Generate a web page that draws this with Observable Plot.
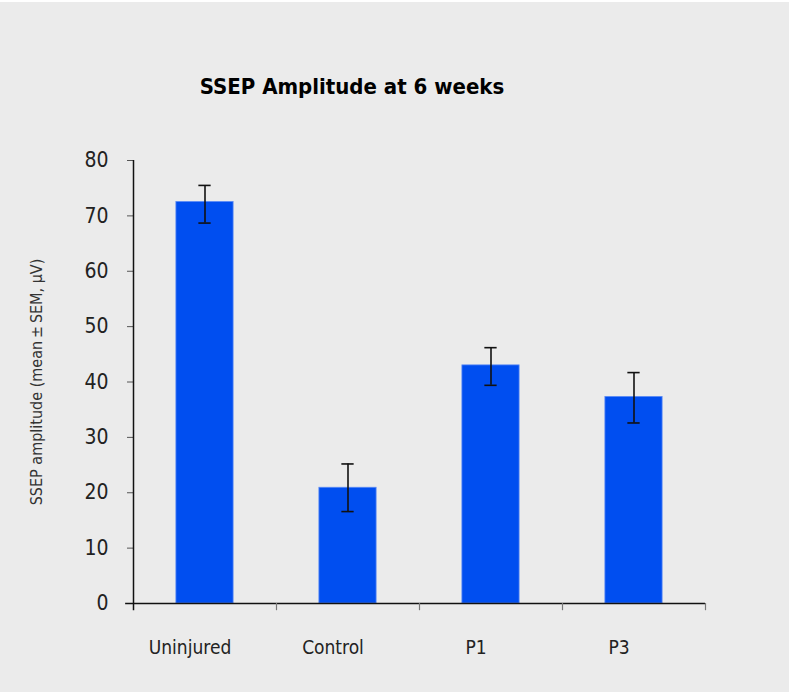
<!DOCTYPE html>
<html>
<head>
<meta charset="utf-8">
<script src="https://cdn.jsdelivr.net/npm/d3@7"></script>
<script src="https://cdn.jsdelivr.net/npm/@observablehq/plot@0.6"></script>
<style>
  html, body { margin: 0; padding: 0; background: #ebebeb; }
  #wrap { position: relative; width: 789px; height: 692px; background: #ebebeb; border-top: 2px solid #ffffff; box-sizing: border-box; }
  #title { position: absolute; left: 0; width: 704px; top: 72px; text-align: center;
    font-family: "DejaVu Sans", sans-serif; font-stretch: condensed;
    font-weight: bold; font-size: 22px; color: #000; }
  #chart { position: absolute; left: 0; top: -2px; }
  svg { font-family: "DejaVu Sans", sans-serif; font-stretch: condensed; }
</style>
</head>
<body>
<div id="wrap">
  <div id="title">SSEP Amplitude at 6 weeks</div>
  <div id="chart"></div>
</div>
<script>
const categories = ["Uninjured", "Control", "P1", "P3"];
const means = [72.5, 20.9, 43.0, 37.3];
const errUpper = [75.5, 25.2, 46.2, 41.7];
const errLower = [68.7, 16.6, 39.4, 32.6];
const yTicks = [0, 10, 20, 30, 40, 50, 60, 70, 80];
const yLabel = "SSEP amplitude (mean\u2009\u00b1\u2009SEM, \u03bcV)";

const data = categories.map((c, i) => ({
  cat: c, i, mean: means[i], hi: errUpper[i], lo: errLower[i]
}));

const chart = Plot.plot({
  width: 789,
  height: 692,
  marginLeft: 133,
  marginRight: 84,
  marginTop: 160,
  marginBottom: 89,
  style: { background: "transparent", fontSize: "20px", color: "#222" },
  x: { domain: [0, categories.length], axis: null },
  y: { domain: [0, 80], axis: null },
  marks: [
    Plot.rectY(data, { x1: d => d.i + 0.3, x2: d => d.i + 0.7, y1: 0, y2: "mean",
      fill: "#004ef0", stroke: "#5a8af5", strokeWidth: 0.8 }),
    Plot.ruleX(data, { x: d => d.i + 0.5, y1: "lo", y2: "hi", stroke: "#111", strokeWidth: 1.6 }),
    Plot.ruleY(data, { x1: d => d.i + 0.457, x2: d => d.i + 0.543, y: "hi", stroke: "#111", strokeWidth: 1.6 }),
    Plot.ruleY(data, { x1: d => d.i + 0.457, x2: d => d.i + 0.543, y: "lo", stroke: "#111", strokeWidth: 1.6 }),
    // y axis
    Plot.axisY({ ticks: yTicks, tickSize: 6, tickPadding: 19, fontSize: 21, stroke: "#555", fill: "#222", label: null }),
    Plot.ruleX([0], { y1: -1.3, y2: 80, stroke: "#111", strokeWidth: 1.5 }),
    // x axis
    Plot.ruleY([0], { x1: -0.055, x2: categories.length, stroke: "#111", strokeWidth: 1.5 }),
    Plot.ruleX(d3.range(1, categories.length + 1), { x: d => d, y1: 0, y2: -1.3, stroke: "#777", strokeWidth: 1.2 }),
    Plot.text(data, { x: d => d.i + 0.5, y: 0, dx: -15, dy: 44, text: "cat", fontSize: 19, fill: "#222", textAnchor: "middle" }),
    // y label
    Plot.text([yLabel], { x: 0, y: 40, dx: -97, rotate: -90, fontSize: 16, fill: "#333", textAnchor: "middle" })
  ]
});
document.getElementById("chart").appendChild(chart);
</script>
</body>
</html>
